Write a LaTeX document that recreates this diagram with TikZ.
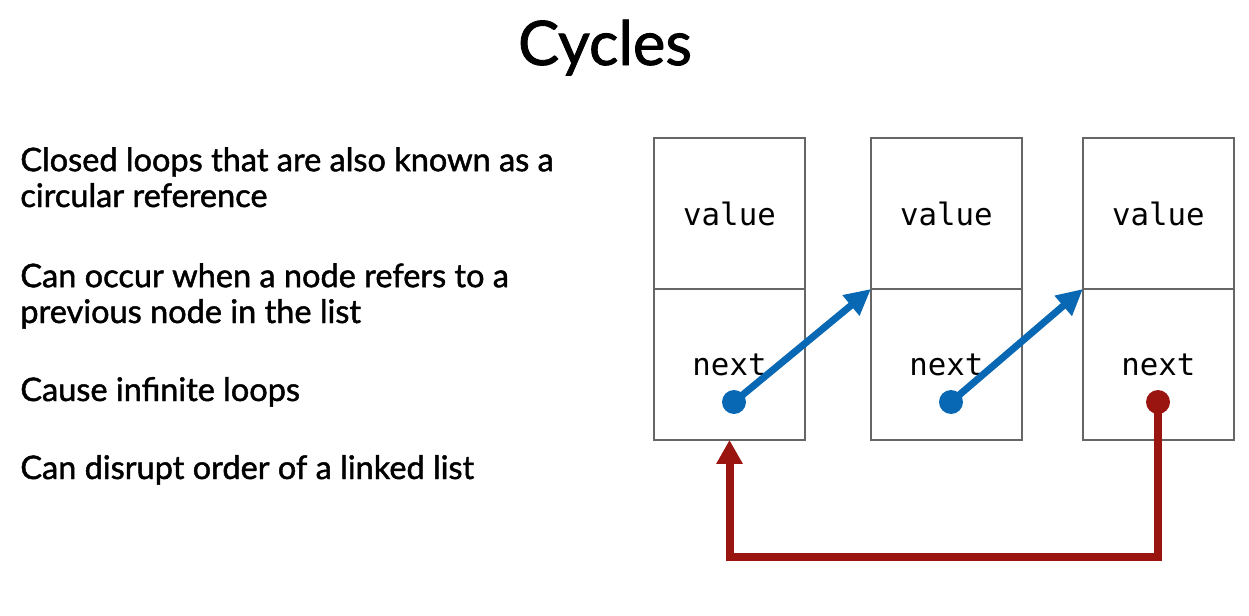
\documentclass[tikz,border=0pt]{standalone}
\usepackage{fontspec}
\setmainfont{Lato}[FakeBold=1.4]
\newfontfamily\cellfont{DejaVu Sans Mono}
\usetikzlibrary{positioning,arrows.meta}
\definecolor{linkblue}{HTML}{0868B4}
\definecolor{cyclered}{HTML}{9B1510}
\definecolor{cellgray}{HTML}{666666}

\begin{document}
\begin{tikzpicture}[x=0.02cm,y=-0.02cm,
    cell/.style={draw=cellgray,line width=0.8pt,minimum width=3.02cm,minimum height=3.02cm,
        inner sep=0pt,outer sep=0pt,font=\cellfont\fontsize{17.5}{20}\selectfont},
    dot/.style={circle,fill,inner sep=0pt,minimum size=0.48cm},
    link/.style={linkblue,line width=0.14cm,-{Triangle[length=0.52cm,width=0.5cm]}},
    back/.style={cyclered,line width=0.16cm,-{Triangle[length=0.48cm,width=0.5cm]}},
    item/.style={anchor=base west,align=left,inner sep=0pt,font=\fontsize{18.5}{20.4}\selectfont}]
    \useasboundingbox(0,0)rectangle(1249,616);

    \node[anchor=base,font=\fontsize{35}{40}\selectfont](title)at(605,65){Cycles};

    % base of a two-line node is its last line
    \node[item](i1)at(20,207){Closed loops that are also known as a\\circular reference};
    \node[item](i2)at(20,323){Can occur when a node refers to a\\previous node in the list};
    \node[item](i3)at(20,401){Cause infinite loops};
    \node[item](i4)at(20,479){Can disrupt order of a linked list};

    \node[cell](val1)at(729.5,213.5){value};
    \node[cell,right=1.32cm of val1](val2){value};
    \node[cell,right=1.22cm of val2](val3){value};
    \node[cell,below=0pt of val1](nxt1){next};
    \node[cell,below=0pt of val2](nxt2){next};
    \node[cell,below=0pt of val3](nxt3){next};

    \node[dot,linkblue](dot1)at(734,402){};
    \node[dot,linkblue](dot2)at(951,402){};
    \node[dot,cyclered](dot3)at(1158,402){};

    \draw[link](dot1.center)--(nxt2.north west);
    \draw[link](dot2.center)--(nxt3.north west);
    \draw[back](dot3.center)--++(0,155)-|(nxt1.south);
\end{tikzpicture}
\end{document}
